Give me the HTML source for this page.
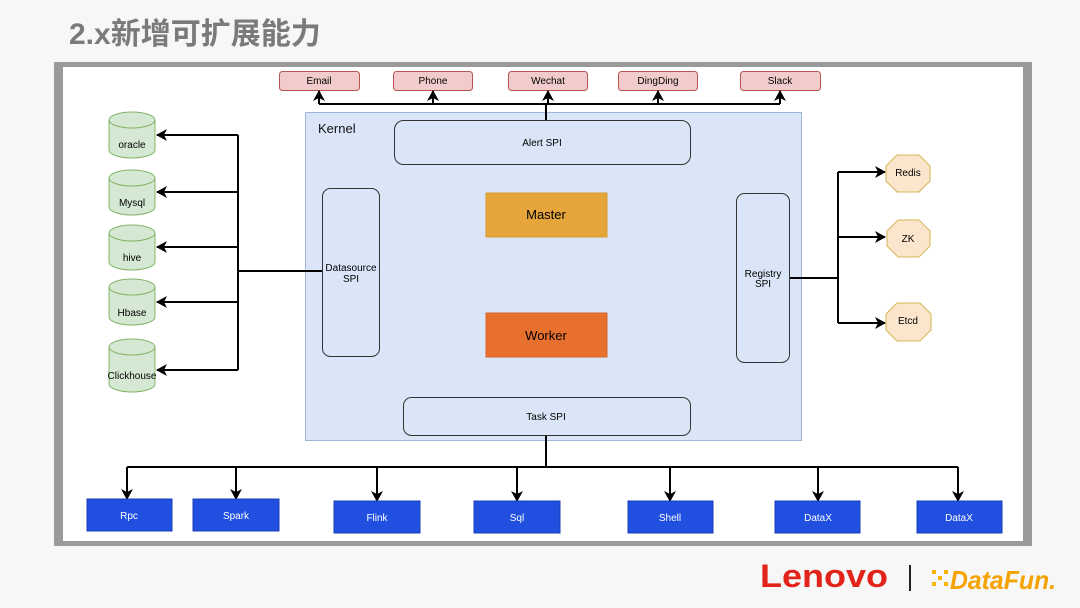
<!DOCTYPE html>
<html><head><meta charset="utf-8"><style>
html,body{margin:0;padding:0;background:#f7f7f7;width:1080px;height:608px;overflow:hidden}
svg{display:block}
text{font-family:"Liberation Sans","Noto Sans CJK SC",sans-serif}
</style></head><body>
<svg width="1080" height="608" viewBox="0 0 1080 608" xmlns="http://www.w3.org/2000/svg">
<defs>
<marker id="a" markerWidth="12" markerHeight="12" refX="10" refY="6" orient="auto" markerUnits="userSpaceOnUse">
<path d="M0,0 L11,6 L0,12 L3,6 Z" fill="#000"/></marker>
</defs>
<rect width="1080" height="608" fill="#f7f7f7"/>
<text x="69" y="44" font-size="30" font-weight="bold" fill="#7a7a7a">2.x新增可扩展能力</text>
<rect x="54" y="62" width="978" height="484" fill="#9a9a9a"/>
<rect x="63" y="67" width="960" height="474" fill="#fff"/>
<!-- kernel -->
<rect x="305.5" y="112.5" width="496" height="328" fill="#dae6f7" stroke="#9fb6d8"/>
<text x="318" y="133" font-size="13" fill="#111">Kernel</text>
<rect x="394.5" y="120.5" width="296" height="44" rx="9" fill="#dae6f7" stroke="#333"/>
<text x="542" y="146" font-size="10" text-anchor="middle">Alert SPI</text>
<rect x="486" y="193" width="121" height="44" fill="#e5a53a" stroke="#d99a30"/>
<text x="546" y="219" font-size="13" text-anchor="middle">Master</text>
<rect x="486" y="313" width="121" height="44" fill="#e8702e" stroke="#d8642a"/>
<text x="546" y="340" font-size="13" text-anchor="middle">Worker</text>
<rect x="322.5" y="188.5" width="57" height="168" rx="8" fill="#dae6f7" stroke="#333"/>
<text x="351" y="271" font-size="10" text-anchor="middle">Datasource</text>
<text x="351" y="282" font-size="10" text-anchor="middle">SPI</text>
<rect x="736.5" y="193.5" width="53" height="169" rx="8" fill="#dae6f7" stroke="#333"/>
<text x="763" y="277" font-size="10" text-anchor="middle">Registry</text>
<text x="763" y="287" font-size="10" text-anchor="middle">SPI</text>
<rect x="403.5" y="397.5" width="287" height="38" rx="8" fill="#dae6f7" stroke="#333"/>
<text x="546" y="420" font-size="10" text-anchor="middle">Task SPI</text>
<!-- top -->
<g font-size="10" text-anchor="middle">
<rect x="279.5" y="71.5" width="80" height="19" rx="3" fill="#f2cccc" stroke="#b85450"/><text x="319" y="84">Email</text>
<rect x="393.5" y="71.5" width="79" height="19" rx="3" fill="#f2cccc" stroke="#b85450"/><text x="433" y="84">Phone</text>
<rect x="508.5" y="71.5" width="79" height="19" rx="3" fill="#f2cccc" stroke="#b85450"/><text x="548" y="84">Wechat</text>
<rect x="618.5" y="71.5" width="79" height="19" rx="3" fill="#f2cccc" stroke="#b85450"/><text x="658" y="84">DingDing</text>
<rect x="740.5" y="71.5" width="80" height="19" rx="3" fill="#f2cccc" stroke="#b85450"/><text x="780" y="84">Slack</text>
</g>
<g stroke="#000" stroke-width="2" fill="none">
<path d="M319,104 H780 M546,104 V120"/>
<path d="M319,104 V91" marker-end="url(#a)"/><path d="M433,104 V91" marker-end="url(#a)"/>
<path d="M548,104 V91" marker-end="url(#a)"/><path d="M658,104 V91" marker-end="url(#a)"/>
<path d="M780,104 V91" marker-end="url(#a)"/>
<path d="M322,271 H238 M238,135 V370"/>
<path d="M238,135 H157" marker-end="url(#a)"/><path d="M238,192 H157" marker-end="url(#a)"/>
<path d="M238,247 H157" marker-end="url(#a)"/><path d="M238,302 H157" marker-end="url(#a)"/>
<path d="M238,370 H157" marker-end="url(#a)"/>
<path d="M790,278 H838 M838,172 V323"/>
<path d="M838,172 H885" marker-end="url(#a)"/><path d="M838,237 H885" marker-end="url(#a)"/>
<path d="M838,323 H885" marker-end="url(#a)"/>
<path d="M546,436 V467 M127,467 H958"/>
<path d="M127,467 V499" marker-end="url(#a)"/><path d="M236,467 V499" marker-end="url(#a)"/>
<path d="M377,467 V501" marker-end="url(#a)"/><path d="M517,467 V501" marker-end="url(#a)"/>
<path d="M670,467 V501" marker-end="url(#a)"/><path d="M818,467 V501" marker-end="url(#a)"/>
<path d="M958,467 V501" marker-end="url(#a)"/>
</g>
<g fill="#d5e8d4" stroke="#82b366" font-size="10" text-anchor="middle">
<path d="M109,120 V150 A23,8 0 0 0 155,150 V120"/><ellipse cx="132" cy="120" rx="23" ry="8"/><text x="132" y="148" stroke="none" fill="#000">oracle</text>
<path d="M109,178 V207 A23,8 0 0 0 155,207 V178"/><ellipse cx="132" cy="178" rx="23" ry="8"/><text x="132" y="206" stroke="none" fill="#000">Mysql</text>
<path d="M109,233 V262 A23,8 0 0 0 155,262 V233"/><ellipse cx="132" cy="233" rx="23" ry="8"/><text x="132" y="261" stroke="none" fill="#000">hive</text>
<path d="M109,287 V317 A23,8 0 0 0 155,317 V287"/><ellipse cx="132" cy="287" rx="23" ry="8"/><text x="132" y="316" stroke="none" fill="#000">Hbase</text>
<path d="M109,347 V384 A23,8 0 0 0 155,384 V347"/><ellipse cx="132" cy="347" rx="23" ry="8"/><text x="132" y="379" stroke="none" fill="#000">Clickhouse</text>
</g>
<g fill="#fce5cd" stroke="#d6b656" font-size="10" text-anchor="middle">
<polygon points="897,155 919,155 930,166 930,181 919,192 897,192 886,181 886,166"/><text x="908" y="176" stroke="none" fill="#000">Redis</text>
<polygon points="898,220 919,220 930,231 930,246 919,257 898,257 887,246 887,231"/><text x="908" y="242" stroke="none" fill="#000">ZK</text>
<polygon points="897,303 920,303 931,314 931,330 920,341 897,341 886,330 886,314"/><text x="908" y="324" stroke="none" fill="#000">Etcd</text>
</g>
<g fill="#2150e0" stroke="#1a3fb8" font-size="10" text-anchor="middle">
<rect x="87" y="499" width="85" height="32"/><text x="129" y="519" stroke="none" fill="#fff">Rpc</text>
<rect x="193" y="499" width="86" height="32"/><text x="236" y="519" stroke="none" fill="#fff">Spark</text>
<rect x="334" y="501" width="86" height="32"/><text x="377" y="521" stroke="none" fill="#fff">Flink</text>
<rect x="474" y="501" width="86" height="32"/><text x="517" y="521" stroke="none" fill="#fff">Sql</text>
<rect x="628" y="501" width="85" height="32"/><text x="670" y="521" stroke="none" fill="#fff">Shell</text>
<rect x="775" y="501" width="85" height="32"/><text x="818" y="521" stroke="none" fill="#fff">DataX</text>
<rect x="917" y="501" width="85" height="32"/><text x="959" y="521" stroke="none" fill="#fff">DataX</text>
</g>
<text x="760" y="587" font-size="32" font-weight="bold" fill="#e2231a" textLength="128" lengthAdjust="spacingAndGlyphs">Lenovo</text>
<rect x="909" y="565" width="2" height="26" fill="#222"/>
<g fill="#f7b500"><rect x="932" y="570" width="4" height="4"/><rect x="938" y="576" width="4" height="4"/><rect x="932" y="582" width="4" height="4"/><rect x="944" y="570" width="4" height="4"/><rect x="944" y="582" width="4" height="4"/></g>
<text x="950" y="589" font-size="26" font-weight="bold" font-style="italic" fill="#f5a300" textLength="106" lengthAdjust="spacingAndGlyphs">DataFun.</text>
</svg>
</body></html>
